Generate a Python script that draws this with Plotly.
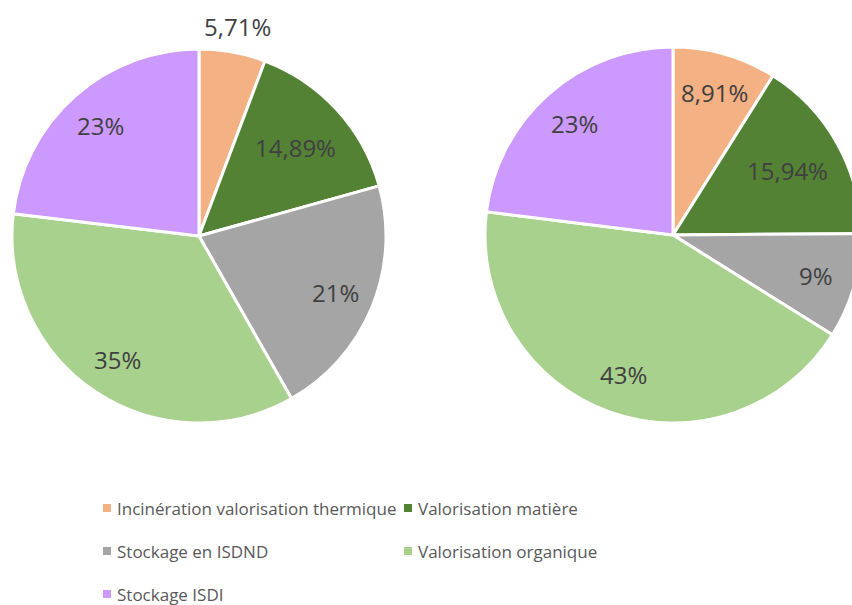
import math
import plotly.graph_objects as go

# Categories shared by both pies
categories = [
    "Incinération valorisation thermique",
    "Valorisation matière",
    "Stockage en ISDND",
    "Valorisation organique",
    "Stockage ISDI",
]
colors = ["#F4B183", "#548235", "#A5A5A5", "#A9D18E", "#CC99FF"]

# Shares (%) per category
left_values = [5.71, 14.89, 21, 35, 23]
right_values = [8.91, 15.94, 9, 43, 23]

# Label placement: fraction of the radius, or None for a label outside the pie
left_label_radius = [None, 0.70, 0.79, 0.79, 0.79]
right_label_radius = [0.79, 0.70, 0.79, 0.79, 0.79]

W, H = 866, 605
LABEL_COLOR = "#404040"
LEGEND_COLOR = "#595959"
FONT = "Open Sans"


def fmt(v):
    return f"{v:g}".replace(".", ",") + "%"


def pie_geometry(cx, cy, r):
    dom_x = [(cx - r) / W, (cx + r) / W]
    dom_y = [1 - (cy + r) / H, 1 - (cy - r) / H]
    return dom_x, dom_y


pies = [
    (left_values, left_label_radius, 199, 236, 187),
    (right_values, right_label_radius, 673, 235, 188),
]

fig = go.Figure()
annotations = []

for values, label_radius, cx, cy, r in pies:
    dom_x, dom_y = pie_geometry(cx, cy, r)
    fig.add_trace(go.Pie(
        labels=categories,
        values=values,
        sort=False,
        direction="clockwise",
        rotation=0,
        marker=dict(colors=colors, line=dict(color="white", width=3)),
        textinfo="none",
        hoverinfo="label+value",
        domain=dict(x=dom_x, y=dom_y),
        showlegend=False,
    ))
    total = sum(values)
    cum = 0.0
    for v, frac in zip(values, label_radius):
        mid = (cum + v / 2) / total * 2 * math.pi
        cum += v
        rr = r + 26 if frac is None else r * frac
        px = cx + rr * math.sin(mid)
        py = cy - rr * math.cos(mid)
        annotations.append(dict(
            x=px / W, y=1 - py / H, xref="paper", yref="paper",
            text=fmt(v), showarrow=False,
            xanchor="center", yanchor="middle",
            font=dict(family=FONT, size=24, color=LABEL_COLOR),
        ))

# Two-column legend below the pies
legend_cols = [103, 404]
legend_rows = [508, 551, 594]
shapes = []
for i, (name, col) in enumerate(zip(categories, colors)):
    lx = legend_cols[i % 2]
    ly = legend_rows[i // 2]
    shapes.append(dict(
        type="rect", xref="paper", yref="paper",
        x0=lx / W, x1=(lx + 8) / W,
        y0=1 - (ly + 4) / H, y1=1 - (ly - 4) / H,
        fillcolor=col, line=dict(width=0),
    ))
    annotations.append(dict(
        x=(lx + 12) / W, y=1 - ly / H, xref="paper", yref="paper",
        text=name, showarrow=False,
        xanchor="left", yanchor="middle",
        font=dict(family=FONT, size=17, color=LEGEND_COLOR),
    ))

fig.update_layout(
    width=W,
    height=H,
    margin=dict(l=0, r=0, t=0, b=0),
    paper_bgcolor="white",
    plot_bgcolor="white",
    annotations=annotations,
    shapes=shapes,
    showlegend=False,
)

fig.write_html(
    "out.html",
    post_script="document.body.style.margin='0';document.body.style.overflow='hidden';",
)
